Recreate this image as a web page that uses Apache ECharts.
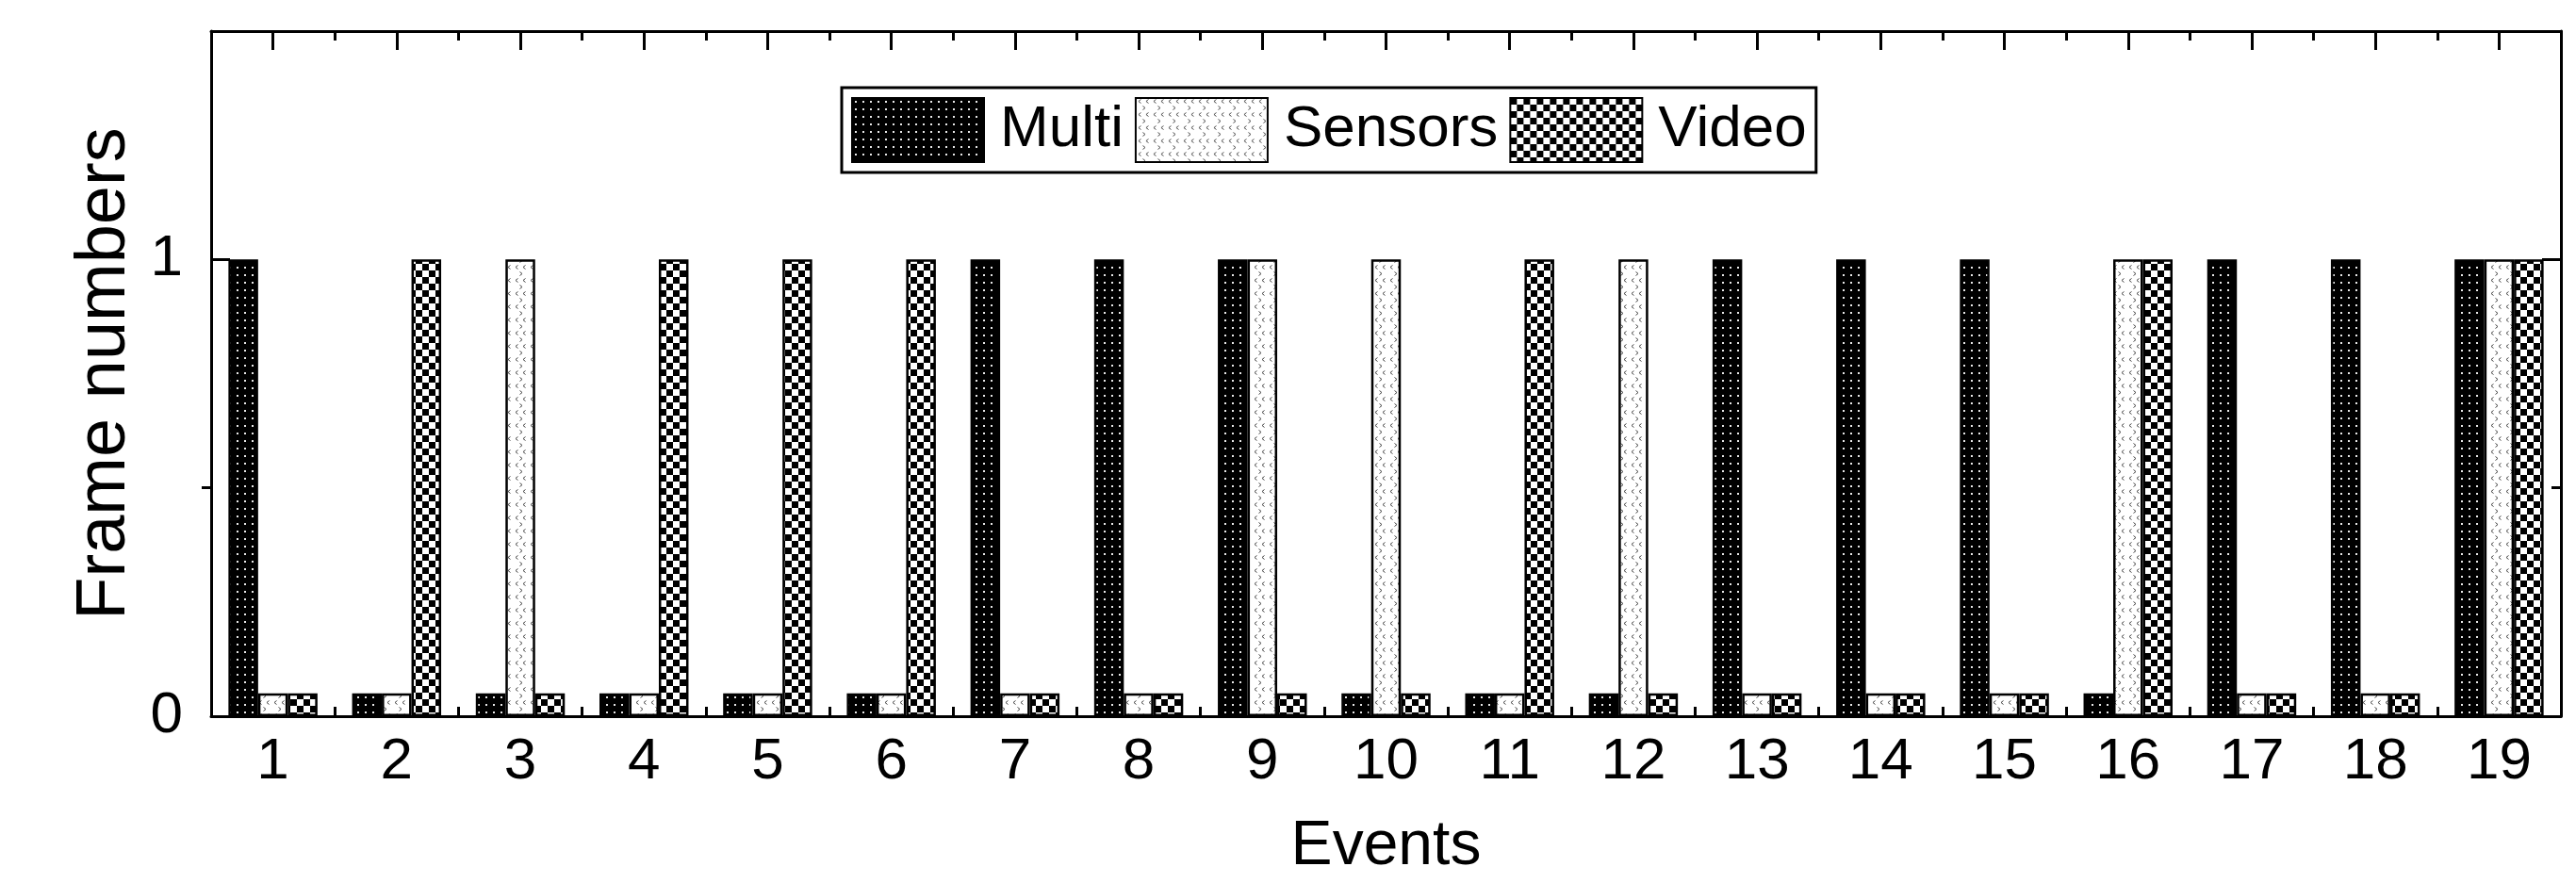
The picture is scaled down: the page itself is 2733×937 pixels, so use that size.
<!DOCTYPE html>
<html>
<head>
<meta charset="utf-8">
<script src="https://cdn.jsdelivr.net/npm/echarts@6/dist/echarts.min.js"></script>
<style>
html,body{margin:0;padding:0;background:#fff;}
#chart{width:2733px;height:937px;}
</style>
</head>
<body>
<div id="chart"></div>
<script>
// ---- data ----
const events = ['1','2','3','4','5','6','7','8','9','10','11','12','13','14','15','16','17','18','19'];
const seriesNames = ['Multi','Sensors','Video'];
const multi   = [1,0.05,0.05,0.05,0.05,0.05,1,1,1,0.05,0.05,0.05,1,1,1,0.05,1,1,1];
const sensors = [0.05,0.05,1,0.05,0.05,0.05,0.05,0.05,1,1,0.05,1,0.05,0.05,0.05,1,0.05,0.05,1];
const video   = [0.05,1,0.05,1,1,1,0.05,0.05,0.05,0.05,1,0.05,0.05,0.05,0.05,1,0.05,0.05,1];
const yLabelledTicks = [0, 1];
const yTickPositions = ['0','0.5','1','1.5'];
const xName = 'Events';
const yName = 'Frame numbers';

// ---- patterns ----
function makeTile(w, h, draw) {
  const c = document.createElement('canvas');
  c.width = w; c.height = h;
  const g = c.getContext('2d');
  draw(g, w, h);
  return { image: c, repeat: 'repeat' };
}
const multiPattern = makeTile(8, 8, (g, w, h) => {
  g.fillStyle = '#000'; g.fillRect(0, 0, w, h);
  g.fillStyle = '#e8e8e8'; g.fillRect(3, 3, 2, 2);
});
const sensorsPattern = makeTile(16, 14, (g, w, h) => {
  g.fillStyle = '#fff'; g.fillRect(0, 0, w, h);
  g.strokeStyle = '#444'; g.lineWidth = 1;
  g.beginPath();
  // '<' '<' row
  g.moveTo(5.5, 1.5); g.lineTo(3, 3.5); g.lineTo(5.5, 5.5);
  g.moveTo(13.5, 1.5); g.lineTo(11, 3.5); g.lineTo(13.5, 5.5);
  // '>' row
  g.moveTo(7.5, 8.5); g.lineTo(10, 10.5); g.lineTo(7.5, 12.5);
  g.stroke();
});
const videoPattern = makeTile(14, 14, (g, w, h) => {
  g.fillStyle = '#fff'; g.fillRect(0, 0, w, h);
  g.fillStyle = '#000';
  g.fillRect(0, 0, 7, 7); g.fillRect(7, 7, 7, 7);
});

const FONT = 'Liberation Sans, Arial, sans-serif';
const chart = echarts.init(document.getElementById('chart'), null, {renderer: 'canvas'});

const barCommon = {
  type: 'bar',
  xAxisIndex: 0,
  yAxisIndex: 0,
  barGap: '0%',
  barCategoryGap: '28%',
  animation: false
};
function barSeries(name, data, pattern) {
  return Object.assign({}, barCommon, {
    name: name,
    data: data,
    itemStyle: { color: pattern, borderColor: '#000', borderWidth: 2.5 }
  });
}

const catTickAxis = (pos, len, inside, align, showLine) => ({
  type: 'category', data: events, position: pos, gridIndex: 0,
  boundaryGap: true,
  axisLine: { show: showLine, lineStyle: { color: '#000', width: 3 } },
  axisTick: { show: true, inside: inside, length: len, alignWithLabel: align,
              lineStyle: { color: '#000', width: 3 } },
  axisLabel: { show: false },
  splitLine: { show: false }
});
const yTickAxis = (pos, len, inside, idxs, showLine) => ({
  type: 'category', data: yTickPositions, position: pos, gridIndex: 0,
  boundaryGap: false,
  axisLine: { show: showLine, lineStyle: { color: '#000', width: 3 } },
  axisTick: { show: true, inside: inside, length: len,
              interval: (i) => idxs.indexOf(i) >= 0,
              lineStyle: { color: '#000', width: 3 } },
  axisLabel: { show: false },
  splitLine: { show: false }
});

const option = {
  backgroundColor: '#fff',
  animation: false,
  textStyle: { fontFamily: FONT, color: '#000' },
  grid: { left: 224, right: 16, top: 33, bottom: 170, containLabel: false },
  legend: {
    data: seriesNames,
    left: 893, top: 93,
    orient: 'horizontal',
    itemWidth: 140, itemHeight: 68, itemGap: 12,
    padding: [10, 10, 10, 10],
    borderColor: '#000', borderWidth: 3,
    backgroundColor: '#fff',
    selectedMode: false,
    icon: 'rect',
    itemStyle: { borderColor: '#000', borderWidth: 2 },
    textStyle: { fontSize: 62, fontFamily: FONT, color: '#000', padding: [0, 0, 0, 12] }
  },
  xAxis: [
    Object.assign(catTickAxis('bottom', 20, true, true, true), {
      axisLabel: { show: true, fontSize: 62, fontFamily: FONT, color: '#000', margin: 18 },
      name: xName, nameLocation: 'middle', nameGap: 106,
      nameTextStyle: { fontSize: 66, fontFamily: FONT, color: '#000' }
    }),
    catTickAxis('bottom', 10, true, false, false),
    catTickAxis('top', 20, true, true, true),
    catTickAxis('top', 10, true, false, false)
  ],
  yAxis: [
    {
      type: 'value', min: 0, max: 1.5, interval: 0.5, position: 'left',
      axisLine: { show: true, lineStyle: { color: '#000', width: 3 } },
      axisTick: { show: false },
      splitLine: { show: false },
      axisLabel: {
        fontSize: 62, fontFamily: FONT, color: '#000', margin: 30,
        formatter: (v) => (yLabelledTicks.indexOf(v) >= 0 ? String(v) : '')
      },
      name: yName, nameLocation: 'middle', nameGap: 73, nameRotate: 90,
      nameTextStyle: { fontSize: 74, fontFamily: FONT, color: '#000' }
    },
    yTickAxis('left', 20, true, [0, 2], false),
    yTickAxis('left', 10, false, [1], false),
    yTickAxis('right', 20, true, [0, 2], true),
    yTickAxis('right', 10, true, [1], false)
  ],
  series: [
    barSeries(seriesNames[0], multi, multiPattern),
    barSeries(seriesNames[1], sensors, sensorsPattern),
    barSeries(seriesNames[2], video, videoPattern)
  ]
};
chart.setOption(option);
</script>
</body>
</html>
